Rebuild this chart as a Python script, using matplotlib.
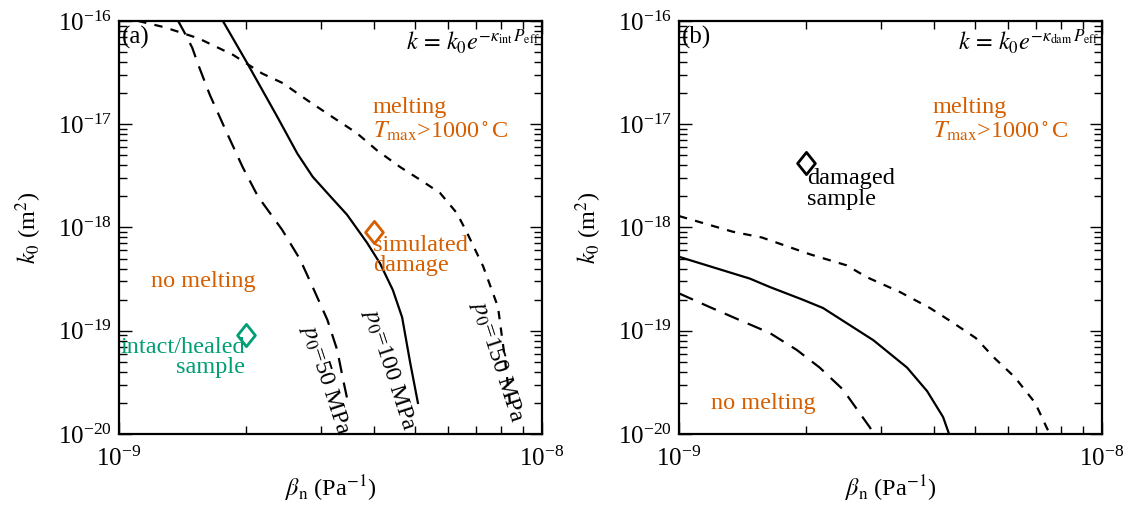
import matplotlib
matplotlib.use("Agg")
import matplotlib.pyplot as plt
from matplotlib.path import Path
from matplotlib.ticker import FixedLocator, NullFormatter, LogFormatterSciNotation

plt.rcParams['font.family'] = ['Liberation Serif', 'DejaVu Serif']
plt.rcParams['mathtext.fontset'] = 'stix'
plt.rcParams['lines.scale_dashes'] = False

ORANGE = '#D55E00'
GREEN = '#009E73'

# ---- panel (a): intact permeability law ----
beta_a50 = [1.38e-9, 1.43e-9, 1.49e-9, 1.54e-9, 1.64e-9, 1.80e-9, 1.96e-9, 2.13e-9,
            2.43e-9, 2.68e-9, 2.87e-9, 3.11e-9, 3.28e-9, 3.39e-9, 3.48e-9]
k_a50 = [1e-16, 7.65e-17, 5.5e-17, 3.75e-17, 1.92e-17, 8.2e-18, 3.85e-18, 2.0e-18,
         9.5e-19, 4.9e-19, 2.65e-19, 1.27e-19, 6.5e-20, 3.3e-20, 2.0e-20]

beta_a100 = [1.76e-9, 2.01e-9, 2.37e-9, 2.64e-9, 2.87e-9, 3.16e-9, 3.46e-9, 3.86e-9,
             4.14e-9, 4.44e-9, 4.67e-9, 4.88e-9, 5.09e-9]
k_a100 = [1e-16, 3.9e-17, 1.17e-17, 5.2e-18, 3.1e-18, 2.0e-18, 1.33e-18, 7.1e-19,
          4.5e-19, 2.48e-19, 1.35e-19, 4.9e-20, 2.0e-20]

beta_a150 = [1.11e-9, 1.28e-9, 1.54e-9, 1.86e-9, 2.18e-9, 2.44e-9, 2.78e-9, 3.20e-9,
             3.65e-9, 4.07e-9, 4.62e-9, 5.15e-9, 5.74e-9, 6.29e-9, 6.65e-9, 7.26e-9,
             7.87e-9, 8.18e-9, 8.4e-9]
k_a150 = [1e-16, 8.7e-17, 6.8e-17, 4.7e-17, 3.1e-17, 2.5e-17, 1.72e-17, 1.17e-17,
          8.2e-18, 5.6e-18, 3.85e-18, 2.9e-18, 2.16e-18, 1.38e-18, 8.9e-19, 4.2e-19,
          1.7e-19, 5.2e-20, 2.0e-20]

# ---- panel (b): damaged permeability law ----
beta_b50 = [1.0e-9, 1.18e-9, 1.39e-9, 1.64e-9, 1.90e-9, 2.15e-9, 2.44e-9, 2.83e-9, 2.88e-9]
k_b50 = [2.3e-19, 1.7e-19, 1.27e-19, 9.5e-20, 6.5e-20, 4.4e-20, 2.7e-20, 1.15e-20, 1.0e-20]

beta_b100 = [1.0e-9, 1.47e-9, 1.64e-9, 1.96e-9, 2.19e-9, 2.88e-9, 3.46e-9, 3.86e-9,
             4.21e-9, 4.35e-9]
k_b100 = [5.2e-19, 3.2e-19, 2.65e-19, 2.0e-19, 1.66e-19, 8.1e-20, 4.4e-20, 2.6e-20,
          1.46e-20, 1.0e-20]

beta_b150 = [1.0e-9, 1.34e-9, 1.57e-9, 2.04e-9, 2.49e-9, 2.78e-9, 3.33e-9, 3.92e-9,
             4.41e-9, 5.03e-9, 5.58e-9, 6.22e-9, 6.95e-9, 7.41e-9, 7.53e-9]
k_b150 = [1.29e-18, 9.1e-19, 8.0e-19, 5.5e-19, 4.3e-19, 3.3e-19, 2.37e-19, 1.66e-19,
          1.22e-19, 8.5e-20, 5.4e-20, 3.55e-20, 2.0e-20, 1.14e-20, 1.0e-20]

# sample points
intact_beta, intact_k = 2.0e-9, 9.1e-20
simdam_beta, simdam_k = 4.0e-9, 9.1e-19
damaged_beta, damaged_k = 2.0e-9, 4.2e-18

pressure_labels = [r'$p_0$=50 MPa', r'$p_0$=100 MPa', r'$p_0$=150 MPa']
x_major = [1e-9, 1e-8]
y_major = [1e-20, 1e-19, 1e-18, 1e-17, 1e-16]
x_minor = [m * 1e-9 for m in range(2, 10)]
y_minor = [m * 10.0 ** e for e in range(-20, -16) for m in range(2, 10)]

LONG = (0, (11, 7))
SHORT = (0, (6, 6))
LW = 1.6

diamond = Path([(0, 1), (0.8, 0), (0, -1), (-0.8, 0), (0, 1)],
               [Path.MOVETO, Path.LINETO, Path.LINETO, Path.LINETO, Path.CLOSEPOLY])

fig = plt.figure(figsize=(11.27, 5.08), dpi=100)
axa = fig.add_axes([0.1056, 0.1457, 0.3753, 0.8130])
axb = fig.add_axes([0.6025, 0.1457, 0.3753, 0.8130])

FS = 17.5
TFS = 18

for ax in (axa, axb):
    ax.set_xscale('log')
    ax.set_yscale('log')
    ax.set_xlim(1e-9, 1e-8)
    ax.set_ylim(1e-20, 1e-16)
    ax.xaxis.set_major_locator(FixedLocator(x_major))
    ax.xaxis.set_minor_locator(FixedLocator(x_minor))
    ax.yaxis.set_major_locator(FixedLocator(y_major))
    ax.yaxis.set_minor_locator(FixedLocator(y_minor))
    ax.xaxis.set_major_formatter(LogFormatterSciNotation())
    ax.yaxis.set_major_formatter(LogFormatterSciNotation())
    ax.xaxis.set_minor_formatter(NullFormatter())
    ax.yaxis.set_minor_formatter(NullFormatter())
    ax.tick_params(which='both', direction='in', top=True, right=True, labelsize=TFS)
    ax.tick_params(which='major', length=9, width=1.0)
    ax.tick_params(which='minor', length=5.5, width=1.0)
    ax.tick_params(axis='x', which='major', pad=9)
    ax.tick_params(axis='y', which='major', pad=5)
    for s in ax.spines.values():
        s.set_linewidth(1.6)
    ax.set_xlabel(r'$\beta_{\rm n}$ (Pa$^{-1}$)', fontsize=FS, labelpad=2)
    ax.set_ylabel(r'$k_0$ (m$^2$)', fontsize=FS, labelpad=10)

# panel (a)
axa.plot(beta_a50, k_a50, color='k', lw=LW, ls=LONG)
axa.plot(beta_a100, k_a100, color='k', lw=LW, ls='-')
axa.plot(beta_a150, k_a150, color='k', lw=LW, ls=SHORT)
axa.plot([intact_beta], [intact_k], marker=diamond, ms=16, mfc='none', mec=GREEN, mew=2, ls='none')
axa.plot([simdam_beta], [simdam_k], marker=diamond, ms=16, mfc='none', mec=ORANGE, mew=2, ls='none')

axa.text(0.006, 0.988, '(a)', transform=axa.transAxes, ha='left', va='top', fontsize=TFS)
axa.text(0.995, 0.985, r'$k\,=\,k_0e^{-\kappa_{\rm int}\,P_{\rm eff}}$', transform=axa.transAxes,
         ha='right', va='top', fontsize=FS)
axa.text(0.60, 0.815, 'melting\n' + r'$T_{\rm max}$>1000$^\circ$C', transform=axa.transAxes,
         ha='left', va='top', fontsize=FS, color=ORANGE, linespacing=1.05)
axa.text(0.60, 0.482, 'simulated\ndamage', transform=axa.transAxes,
         ha='left', va='top', fontsize=FS, color=ORANGE, linespacing=0.95)
axa.text(0.199, 0.368, 'no melting', transform=axa.transAxes,
         ha='center', va='center', fontsize=FS, color=ORANGE)
axa.text(0.298, 0.236, 'intact/healed\nsample', transform=axa.transAxes,
         ha='right', va='top', fontsize=FS, color=GREEN, multialignment='right', linespacing=0.95)

label_pos = [(3.08e-9, 3.3e-20), (4.35e-9, 4.2e-20), (7.83e-9, 5.0e-20)]
for (bx, ky), lab in zip(label_pos, pressure_labels):
    axa.text(bx, ky, lab, ha='center', va='center', fontsize=FS, rotation=-72,
             rotation_mode='anchor')

# panel (b)
axb.plot(beta_b50, k_b50, color='k', lw=LW, ls=LONG)
axb.plot(beta_b100, k_b100, color='k', lw=LW, ls='-')
axb.plot(beta_b150, k_b150, color='k', lw=LW, ls=SHORT)
axb.plot([damaged_beta], [damaged_k], marker=diamond, ms=16, mfc='none', mec='k', mew=2, ls='none')

axb.text(0.006, 0.988, '(b)', transform=axb.transAxes, ha='left', va='top', fontsize=TFS)
axb.text(0.995, 0.985, r'$k\,=\,k_0e^{-\kappa_{\rm dam}\,P_{\rm eff}}$', transform=axb.transAxes,
         ha='right', va='top', fontsize=FS)
axb.text(0.60, 0.815, 'melting\n' + r'$T_{\rm max}$>1000$^\circ$C', transform=axb.transAxes,
         ha='left', va='top', fontsize=FS, color=ORANGE, linespacing=1.05)
axb.text(0.303, 0.643, 'damaged\nsample', transform=axb.transAxes,
         ha='left', va='top', fontsize=FS, color='k', linespacing=0.95)
axb.text(0.199, 0.075, 'no melting', transform=axb.transAxes,
         ha='center', va='center', fontsize=FS, color=ORANGE)

fig.savefig('out.png', dpi=100)
